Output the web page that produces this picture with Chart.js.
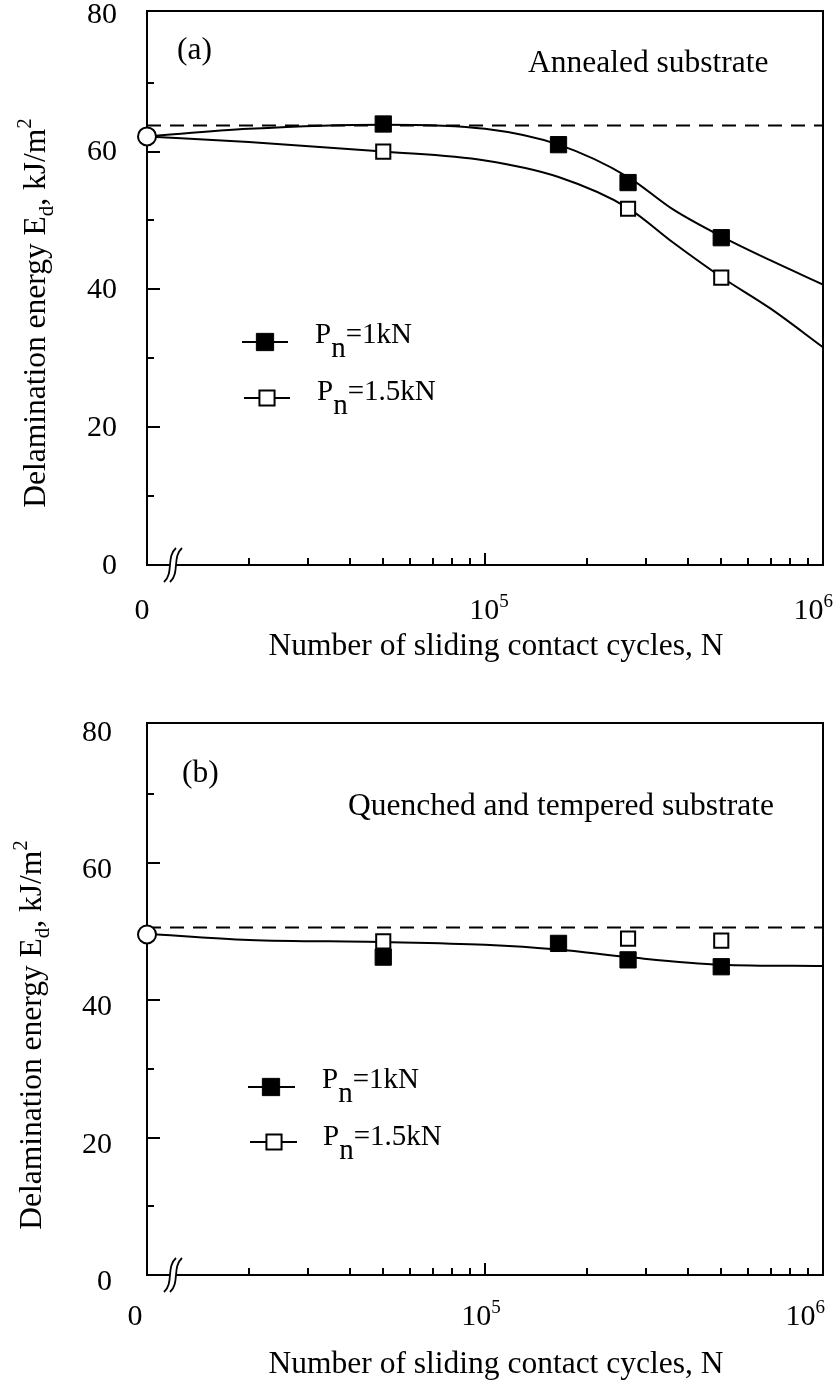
<!DOCTYPE html>
<html>
<head>
<meta charset="utf-8">
<script src="https://cdn.jsdelivr.net/npm/chart.js@4.4.1/dist/chart.umd.min.js"></script>
<style>
  html, body { margin: 0; padding: 0; background: #fff; }
  body { width: 837px; height: 1384px; position: relative; overflow: hidden; }
  canvas { position: absolute; left: 0; }
</style>
</head>
<body>
<canvas id="chart-a" width="837" height="741" style="top:-49px"></canvas>
<canvas id="chart-b" width="837" height="721" style="top:663px"></canvas>
<script>
'use strict';

/////////////////////
//// Data ///////////

// number of sliding cycles; N = 0 is drawn on the axis break
const markCycles1 = [50000, 165000, 265000, 500000];
const markCycles15 = [50000, 265000, 500000];
const curveCyclesA = [0, 20000, 50000, 100000, 165000, 265000, 360000, 500000, 700000, 1000000];
const curveCyclesB = [0, 20000, 50000, 100000, 165000, 265000, 500000, 1000000];

// (a) annealed substrate
const startA = 62.2;
const refA = 63.8;
const energyA1 = [64.0, 61.0, 55.5, 47.5];
const energyA15 = [60.0, 51.7, 41.7];
const curveA1 = [62.2, 63.3, 63.9, 63.3, 61.0, 56.3, 51.6, 47.7, 44.2, 40.7];
const curveA15 = [62.2, 61.4, 60.0, 58.7, 56.3, 51.8, 46.8, 41.8, 37.2, 31.6];

// (b) quenched and tempered substrate
const startB = 49.6;
const refB = 50.6;
const energyB1 = [46.3, 48.3, 45.9, 44.9];
const energyB15 = [48.6, 49.0, 48.7];
const curveB = [49.7, 48.8, 48.5, 48.1, 47.4, 46.3, 45.2, 45.0];

// ticks
const yMajor = [0, 20, 40, 60, 80];
const yMinor = [10, 30, 50, 70];
const xMajor = [100000];
const xMinor = [20000, 30000, 40000, 50000, 60000, 70000, 80000, 90000,
  200000, 300000, 400000, 500000, 600000, 700000, 800000, 900000];
const xLabels = [
  { value: 0, base: '0', sup: '' },
  { value: 100000, base: '10', sup: '5' },
  { value: 1000000, base: '10', sup: '6' }
];
const legendLabels = ['=1kN', '=1.5kN'];

const X_MIN = 1e4, X_MAX = 1e6, Y_MAX = 80.4;
const FONT = '"Liberation Serif", "Times New Roman", serif';

const atAxis = n => (n === 0 ? X_MIN : n);
const pts = (xs, ys) => xs.map((n, i) => ({ x: atAxis(n), y: ys[i] }));

/////////////////////
//// Styles /////////

const filledSq = { pointStyle: 'rect', pointRadius: 11.5, pointBorderWidth: 1, pointBorderColor: '#000', pointBackgroundColor: '#000' };
const openSq = { pointStyle: 'rect', pointRadius: 10, pointBorderWidth: 2, pointBorderColor: '#000', pointBackgroundColor: '#fff' };

function buildDatasets(start, ref, e1, e15, curves) {
  const sets = [
    { data: pts([0], [start]), showLine: false, clip: false,
      pointStyle: 'circle', pointRadius: 9, pointBorderWidth: 2,
      pointBorderColor: '#000', pointBackgroundColor: '#fff' },
    Object.assign({ data: pts(markCycles15, e15), showLine: false }, openSq),
    Object.assign({ data: pts(markCycles1, e1), showLine: false }, filledSq)
  ];
  curves.forEach(c => sets.push({
    data: pts(c.x, c.y), showLine: true, pointRadius: 0,
    borderColor: '#000', borderWidth: 2, cubicInterpolationMode: 'monotone'
  }));
  sets.push({
    data: pts([0, X_MAX], [ref, ref]), showLine: true, pointRadius: 0,
    borderColor: '#000', borderWidth: 2, borderDash: [14, 9]
  });
  return sets;
}

/////////////////////
//// Text helpers ///

function runsWidth(ctx, runs) {
  let w = 0;
  runs.forEach(r => { ctx.font = r.s + 'px ' + FONT; w += ctx.measureText(r.t).width; });
  return w;
}

function drawRuns(ctx, x, y, runs) {
  runs.forEach(r => {
    ctx.font = r.s + 'px ' + FONT;
    ctx.fillText(r.t, x, y + (r.dy || 0));
    x += ctx.measureText(r.t).width;
  });
}

/////////////////////
//// Decor plugin ///

function decorPlugin(p) {
  return {
    id: 'decor',
    beforeDatasetsDraw(chart) {
      const { ctx, chartArea: a, scales: { x, y } } = chart;
      const oy = p.canvasTop;
      ctx.save();
      ctx.strokeStyle = '#000';
      ctx.fillStyle = '#000';
      ctx.lineWidth = 2;

      // top and right edges of the frame
      ctx.beginPath();
      ctx.moveTo(a.left - 1, a.top);
      ctx.lineTo(a.right, a.top);
      ctx.lineTo(a.right, a.bottom + 1);
      ctx.stroke();

      // inward tick marks
      ctx.beginPath();
      yMajor.slice(1, -1).forEach(v => { const py = Math.round(y.getPixelForValue(v)); ctx.moveTo(a.left, py); ctx.lineTo(a.left + 13, py); });
      yMinor.forEach(v => { const py = Math.round(y.getPixelForValue(v)); ctx.moveTo(a.left, py); ctx.lineTo(a.left + 7, py); });
      xMajor.forEach(v => { const px = Math.round(x.getPixelForValue(v)); ctx.moveTo(px, a.bottom); ctx.lineTo(px, a.bottom - 12); });
      xMinor.forEach(v => { const px = Math.round(x.getPixelForValue(v)); ctx.moveTo(px, a.bottom); ctx.lineTo(px, a.bottom - 7); });
      ctx.stroke();

      // axis break
      const bx = a.left + 23;
      ctx.fillStyle = '#fff';
      ctx.fillRect(bx, a.bottom - 3, 6, 6);
      ctx.lineWidth = 1.8;
      [bx, bx + 6].forEach(cx => {
        ctx.beginPath();
        ctx.moveTo(cx + 6, a.bottom - 17);
        ctx.bezierCurveTo(cx - 4, a.bottom - 8, cx + 4, a.bottom + 8, cx - 6, a.bottom + 17);
        ctx.stroke();
      });
      ctx.fillStyle = '#000';

      // x tick labels
      ctx.textBaseline = 'alphabetic';
      ctx.textAlign = 'left';
      xLabels.forEach(l => {
        const runs = [{ t: l.base, s: 30 }];
        if (l.sup) runs.push({ t: l.sup, s: 19, dy: -12 });
        const w = runsWidth(ctx, runs);
        let lx;
        if (l.value === 0) {
          lx = p.zeroLabelX - w / 2;
        } else {
          lx = x.getPixelForValue(l.value) - w / 2 + p.expShift;
          if (lx + w > a.right + p.expEdge) lx = a.right + p.expEdge - w;
        }
        drawRuns(ctx, lx, p.xLabelY - oy, runs);
      });

      // axis titles
      const xt = [{ t: 'Number of sliding contact cycles, N', s: 31.5 }];
      drawRuns(ctx, p.xTitle.x - runsWidth(ctx, xt) / 2, p.xTitle.y - oy, xt);

      const yt = [
        { t: 'Delamination energy E', s: 31.5 },
        { t: 'd', s: 21, dy: 8 },
        { t: ', kJ/m', s: 31.5 },
        { t: '2', s: 21, dy: -14 }
      ];
      ctx.save();
      ctx.translate(p.yTitle.x, p.yTitle.y - oy);
      ctx.rotate(-Math.PI / 2);
      drawRuns(ctx, -runsWidth(ctx, yt) / 2, 0, yt);
      ctx.restore();

      // panel tag and substrate note
      drawRuns(ctx, p.tag.x, p.tag.y - oy, [{ t: p.tag.t, s: 31.5 }]);
      drawRuns(ctx, p.note.x, p.note.y - oy, [{ t: p.note.t, s: 31.5 }]);

      // legend
      p.legend.forEach((e, i) => {
        const ly = e.y - oy;
        const st = i === 0 ? filledSq : openSq;
        ctx.lineWidth = 2;
        ctx.strokeStyle = '#000';
        ctx.beginPath();
        ctx.moveTo(e.x1, ly);
        ctx.lineTo(e.x2, ly);
        ctx.stroke();
        ctx.fillStyle = st.pointBackgroundColor;
        ctx.lineWidth = st.pointBorderWidth;
        Chart.helpers.drawPoint(ctx, { pointStyle: 'rect', radius: st.pointRadius + 0.7, rotation: 0, borderWidth: st.pointBorderWidth }, e.mx, ly);
        ctx.fillStyle = '#000';
        drawRuns(ctx, e.tx, e.ty - oy, [
          { t: 'P', s: 29 },
          { t: 'n', s: 29, dy: 14 },
          { t: legendLabels[i], s: 29 }
        ]);
      });
      ctx.restore();
    }
  };
}

/////////////////////
//// Charts /////////

function makeChart(id, p, datasets) {
  return new Chart(document.getElementById(id), {
    type: 'scatter',
    data: { datasets },
    options: {
      responsive: false,
      animation: false,
      events: [],
      layout: { padding: { top: 60, right: 14, bottom: 0, left: 0 } },
      plugins: { legend: { display: false }, tooltip: { enabled: false } },
      scales: {
        x: {
          type: 'logarithmic', min: X_MIN, max: X_MAX, position: 'bottom',
          ticks: { display: false },
          grid: { display: false, drawTicks: false },
          border: { display: true, color: '#000', width: 2 },
          afterFit: s => { s.height = p.xAxisHeight; }
        },
        y: {
          type: 'linear', min: 0, max: Y_MAX, position: 'left',
          afterBuildTicks: s => { s.ticks = yMajor.map(v => ({ value: v })); },
          ticks: { color: '#000', font: { family: FONT, size: 30 }, padding: p.yTickPad,
            labelOffset: p.yLabelOffset, includeBounds: false },
          grid: { display: false, drawTicks: false },
          border: { display: true, color: '#000', width: 2 },
          afterFit: s => { s.width = 147; }
        }
      }
    },
    plugins: [decorPlugin(p)]
  });
}

const panelA = {
  canvasTop: -49, xAxisHeight: 127, yTickPad: 30, yLabelOffset: 1,
  tag: { t: '(a)', x: 177, y: 59 },
  note: { t: 'Annealed substrate', x: 528, y: 72 },
  yTitle: { x: 45, y: 313 },
  xLabelY: 619, zeroLabelX: 142, expShift: 4, expEdge: 10,
  xTitle: { x: 496, y: 655 },
  legend: [
    { y: 342, x1: 242, x2: 288, mx: 265, tx: 315, ty: 343 },
    { y: 398, x1: 244, x2: 290, mx: 267, tx: 317, ty: 400 }
  ]
};

const panelB = {
  canvasTop: 663, xAxisHeight: 109, yTickPad: 35, yLabelOffset: 7,
  tag: { t: '(b)', x: 182, y: 782 },
  note: { t: 'Quenched and tempered substrate', x: 348, y: 815 },
  yTitle: { x: 41, y: 1035 },
  xLabelY: 1325, zeroLabelX: 135, expShift: -4, expEdge: 2,
  xTitle: { x: 496, y: 1373 },
  legend: [
    { y: 1087, x1: 248, x2: 295, mx: 271, tx: 322, ty: 1088 },
    { y: 1142, x1: 250, x2: 297, mx: 274, tx: 323, ty: 1145 }
  ]
};

const chartA = makeChart('chart-a', panelA, buildDatasets(startA, refA, energyA1, energyA15, [
  { x: curveCyclesA, y: curveA1 },
  { x: curveCyclesA, y: curveA15 }
]));

const chartB = makeChart('chart-b', panelB, buildDatasets(startB, refB, energyB1, energyB15, [
  { x: curveCyclesB, y: curveB }
]));
</script>
</body>
</html>
